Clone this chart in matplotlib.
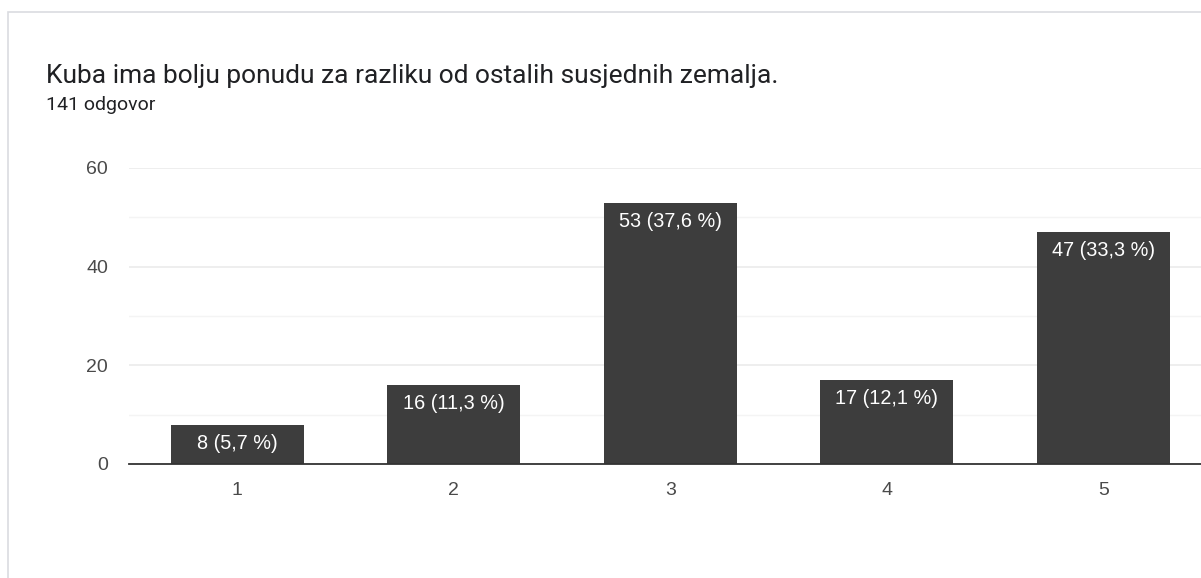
import matplotlib
matplotlib.use("Agg")
import matplotlib.pyplot as plt
from matplotlib.patches import Rectangle

plt.rcParams['font.family'] = ['Liberation Sans', 'DejaVu Sans']

categories = ["1", "2", "3", "4", "5"]
counts = [8, 16, 53, 17, 47]
labels = ["8 (5,7 %)", "16 (11,3 %)", "53 (37,6 %)", "17 (12,1 %)", "47 (33,3 %)"]
yticks = [0, 20, 40, 60]
title = "Kuba ima bolju ponudu za razliku od ostalih susjednih zemalja."
subtitle = "141 odgovor"

W, H = 1201, 578
fig = plt.figure(figsize=(W / 100, H / 100), dpi=100)
fig.patch.set_facecolor("white")

# outer card frame
fig.patches.append(Rectangle((8 / W, -0.1), 1.2, (H - 12) / H + 0.1, transform=fig.transFigure,
                             fill=False, edgecolor="#dadce0", linewidth=1.2))

fig.text(46 / W, 1 - 76 / H, title, fontsize=19, color="#202124", va="center", ha="left",
         family=["Roboto", "DejaVu Sans"])
fig.text(46 / W, 1 - 105 / H, subtitle, fontsize=14, color="#202124", va="center", ha="left",
         family=["Roboto", "DejaVu Sans"])

ax = fig.add_axes([129 / W, 114 / H, (1211.5 - 129) / W, 296 / H])
ax.set_facecolor("white")
x = list(range(1, len(categories) + 1))
bars = ax.bar(x, counts, width=0.615, color="#3d3d3d", zorder=3)
ax.set_xlim(0.5, len(categories) + 0.5)
ax.set_ylim(0, 60)
ax.set_yticks(yticks)
ax.set_yticks([10, 30, 50], minor=True)
ax.grid(axis="y", which="major", color="#ebebeb", linewidth=1.2, zorder=0)
ax.grid(axis="y", which="minor", color="#f4f4f4", linewidth=1.0, zorder=0)
ax.set_xticks(x)
ax.set_xticklabels(categories)
ax.tick_params(axis="both", which="both", length=0, labelsize=14, labelcolor="#4a4a4a")
ax.tick_params(axis="y", pad=15)
ax.tick_params(axis="x", pad=13)
for lbl in ax.get_yticklabels():
    lbl.set_va("center_baseline")
for s in ["top", "right", "left"]:
    ax.spines[s].set_visible(False)
ax.spines["bottom"].set_color("#333333")
ax.spines["bottom"].set_linewidth(1.3)
ax.spines["bottom"].set_zorder(4)

for xi, c, lab in zip(x, counts, labels):
    ax.annotate(lab, xy=(xi, c), xytext=(0, -6.5), textcoords="offset points",
                ha="center", va="top", color="white", fontsize=14.3, zorder=5)

fig.savefig("out.png", dpi=100)
